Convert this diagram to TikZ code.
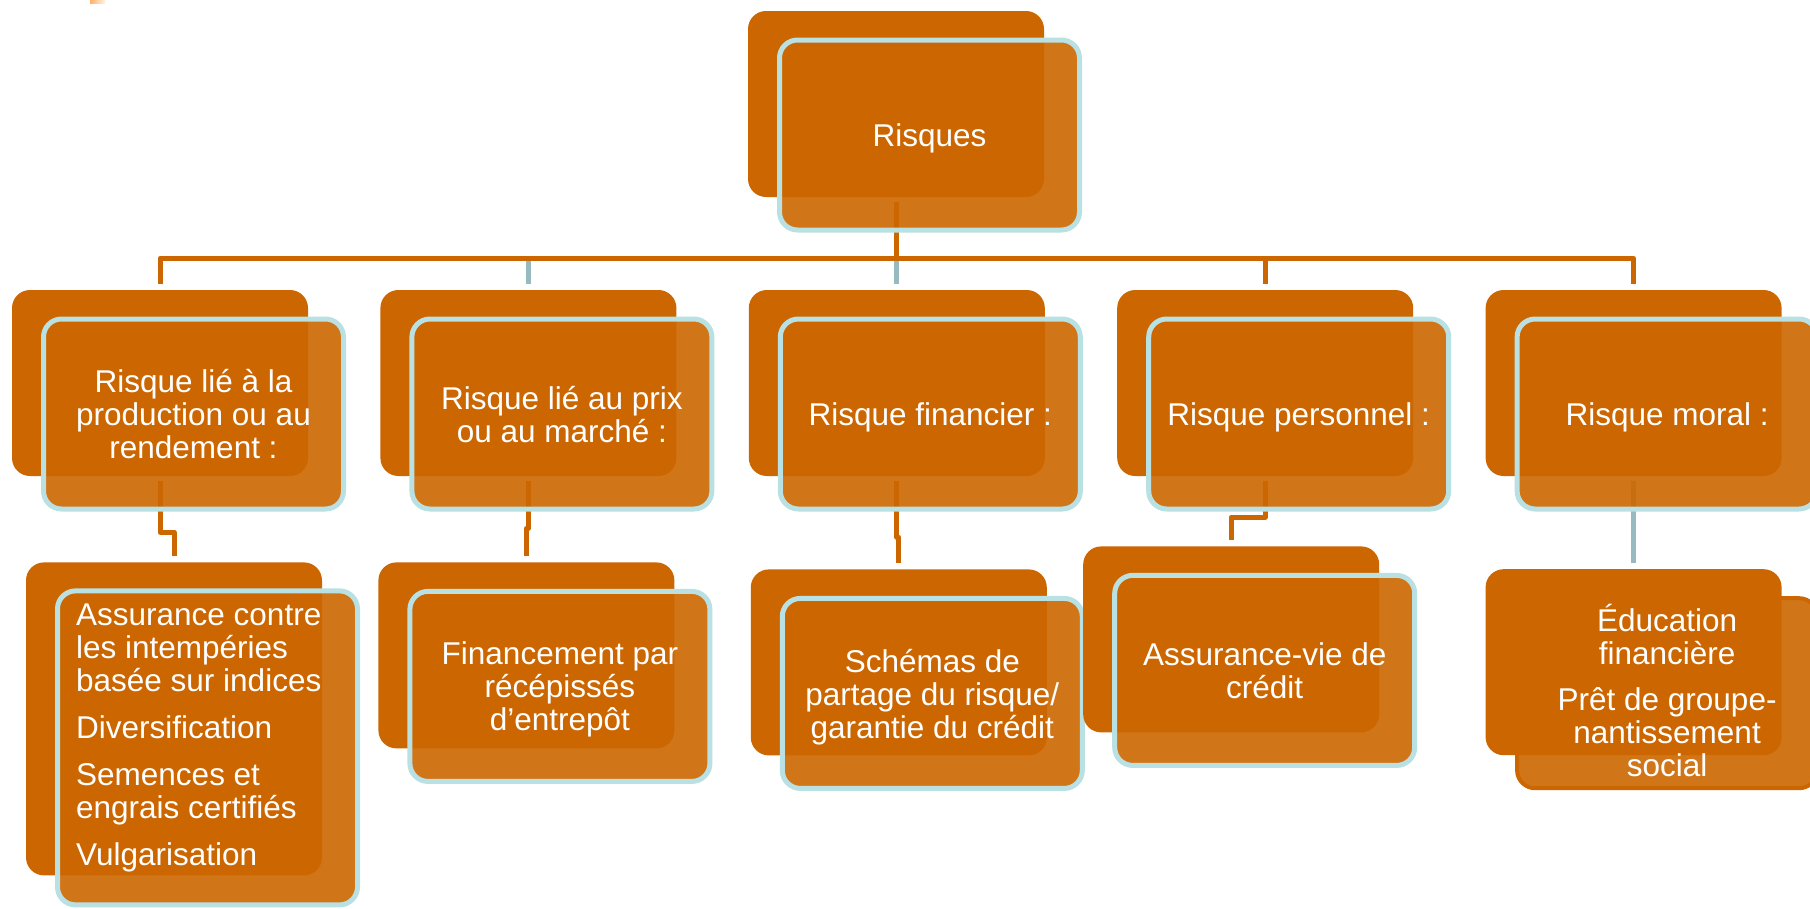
\documentclass[tikz,border=0pt]{standalone}
\usepackage{fontspec}
\setmainfont{Liberation Sans}
\usepackage{tikz}
\usepackage{xcolor}
\usetikzlibrary{positioning}
\definecolor{riskorange}{RGB}{204,102,0}
\definecolor{paleblue}{RGB}{185,224,226}
\definecolor{linkgrey}{RGB}{150,186,192}
\newcommand{\boxfont}{\fontsize{31.5}{33}\selectfont}
\pgfdeclarelayer{links}
\pgfsetlayers{links,main}
\tikzstyle{backbox} = [rectangle, rounded corners=18pt, fill=riskorange, minimum width=296pt, minimum height=186pt, inner sep=0pt]
\tikzstyle{frontbox} = [rectangle, rounded corners=18pt, fill=riskorange, fill opacity=0.9, text opacity=1, draw=paleblue, line width=5pt, minimum width=300pt, minimum height=190pt, text=white, font=\boxfont, align=center, text depth=0pt, inner sep=0pt]
\tikzstyle{boxtext} = [text=white, font=\boxfont, inner sep=0pt]
\tikzstyle{link} = [line width=5pt, draw=riskorange, line join=round, shorten <=5pt, shorten >=6pt]
\tikzstyle{greylink} = [link, draw=linkgrey]

\begin{document}
\begin{tikzpicture}[x=1pt, y=-1pt, node distance=72pt]
\path[use as bounding box] (0,0) rectangle (1810,908);
\shade[left color=orange!60, right color=orange!10] (90,0) rectangle (105,3);

% top box
\node (risqB) [backbox] at (896,104) {};
\node (risq) [frontbox] at ([xshift=33.5pt,yshift=-31pt]risqB.center) {Risques};

% first row
\node (prodB) [backbox] at (160,383) {};
\node (prixB) [backbox, right=of prodB] {};
\node (finB) [backbox, right=of prixB] {};
\node (persB) [backbox, right=of finB] {};
\node (moralB) [backbox, right=of persB] {};

\node (prod) [frontbox] at ([xshift=33.5pt,yshift=-31pt]prodB.center) {Risque lié à la\\production ou au\\rendement :};
\node (prix) [frontbox] at ([xshift=33.5pt,yshift=-31pt]prixB.center) {Risque lié au prix\\ou au marché :};
\node (fin) [frontbox] at ([xshift=33.5pt,yshift=-31pt]finB.center) {Risque financier :};
\node (pers) [frontbox] at ([xshift=33.5pt,yshift=-31pt]persB.center) {Risque personnel :};
\node (moral) [frontbox] at ([xshift=33.5pt,yshift=-31pt]moralB.center) {Risque moral :};

% second row
\node (assuB) [backbox, below=86pt of prodB, xshift=14pt, minimum height=313pt] {};
\node (assu) [frontbox, minimum height=314pt] at ([xshift=33.5pt,yshift=-29pt]assuB.center) {};
\node (assuT) [boxtext, align=left, anchor=north west] at ([xshift=21pt,yshift=-15pt]assu.north west) {Assurance contre\\les intempéries\\basée sur indices\\[14pt]Diversification\\[14pt]Semences et\\engrais certifiés\\[14pt]Vulgarisation};

\node (recB) [backbox, below=86pt of prixB, xshift=-2pt] {};
\node (rec) [frontbox] at ([xshift=33.5pt,yshift=-31pt]recB.center) {Financement par\\récépissés\\d’entrepôt};

\node (schB) [backbox, below=93pt of finB, xshift=2pt] {};
\node (sch) [frontbox] at ([xshift=33.5pt,yshift=-31pt]schB.center) {Schémas de\\partage du risque/\\garantie du crédit};

\node (credB) [backbox, below=70pt of persB, xshift=-34pt] {};
\node (cred) [frontbox] at ([xshift=33.5pt,yshift=-31pt]credB.center) {Assurance-vie de\\crédit};

\node (pret) [frontbox, draw=riskorange, line width=4pt, below=120pt of moralB, xshift=33.5pt] {};
\node (pretB) [backbox] at ([xshift=-33.5pt,yshift=31pt]pret.center) {};
\node (pretT) [boxtext, align=center] at ([yshift=3pt]pret.center) {Éducation\\financière\\[13pt]Prêt de groupe-\\nantissement\\social};

% connectors
\begin{pgfonlayer}{links}
\draw [greylink] (risqB.south) -- ++(0,61) -| (prixB.north);
\draw [greylink] (risqB.south) -- ++(0,61) -| (finB.north);
\draw [link] (risqB.south) -- ++(0,61) -| (prodB.north);
\draw [link] (risqB.south) -- ++(0,61) -| (persB.north);
\draw [link] (risqB.south) -- ++(0,61) -| (moralB.north);
\draw [link] (prodB.south) -- ++(0,56) -| (assuB.north);
\draw [link] (prixB.south) -- ++(0,52) -| (recB.north);
\draw [link] (finB.south) -- ++(0,61) -| (schB.north);
\draw [link] (persB.south) -- ++(0,41) -| (credB.north);
\draw [greylink] (moralB.south) -- (pretB.north);
\end{pgfonlayer}
\end{tikzpicture}
\end{document}
